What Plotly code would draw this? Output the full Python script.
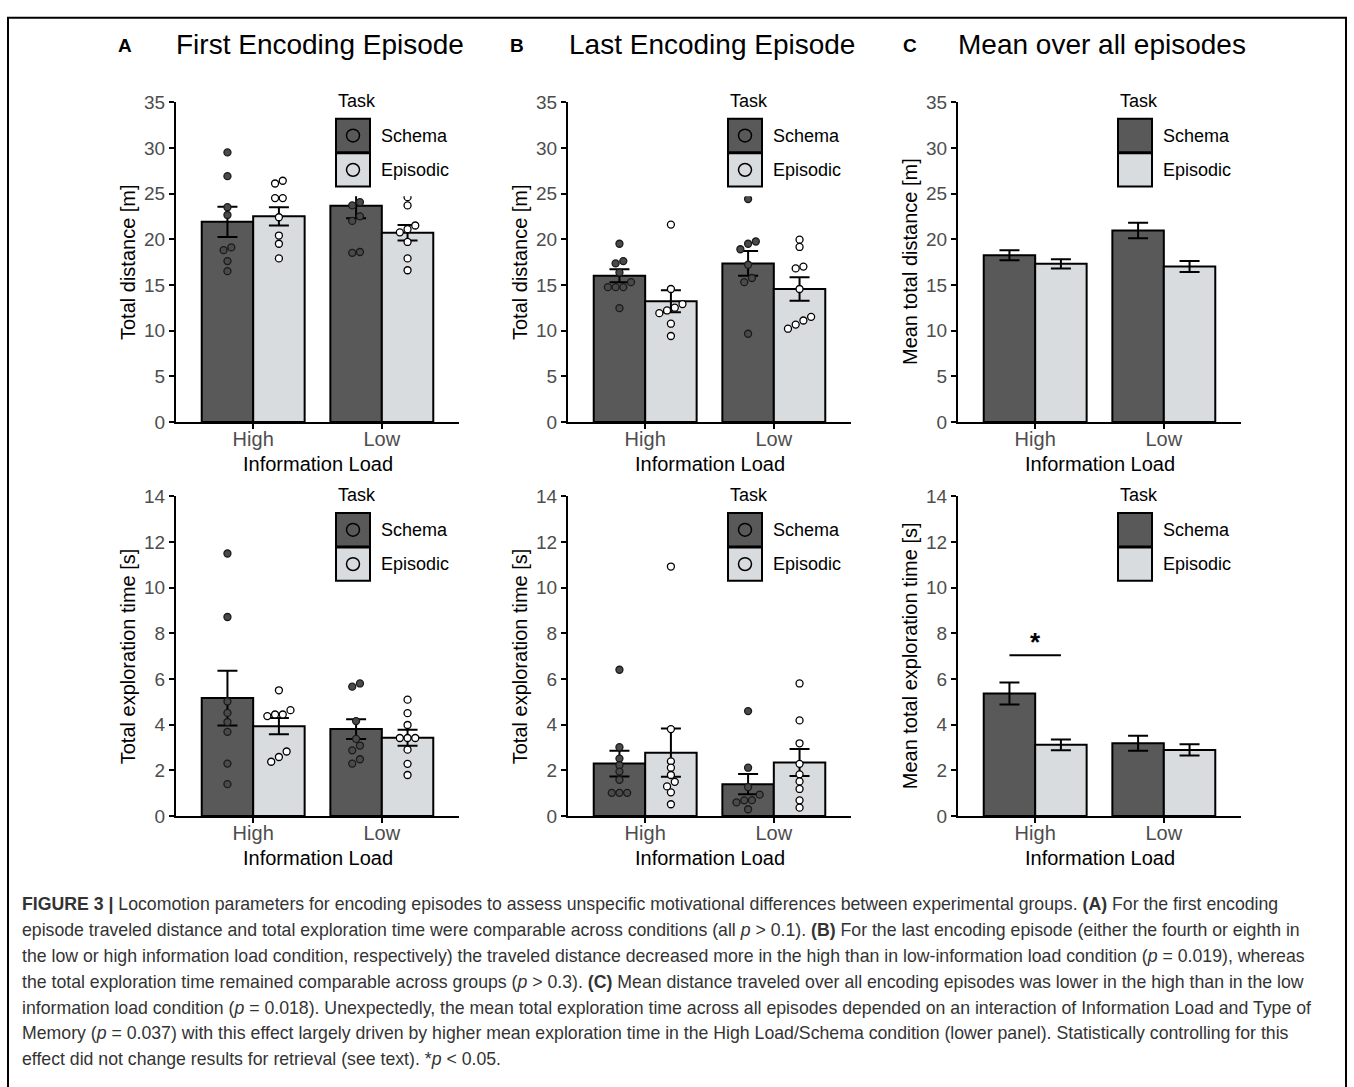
import plotly.graph_objects as go

# ---------------- data ----------------
categories = ["High", "Low"]

# Panel A (first encoding episode) - distance [m]
a_dist_schema_mean = [21.9, 23.65]
a_dist_schema_se = [1.65, 1.35]
a_dist_episodic_mean = [22.5, 20.7]
a_dist_episodic_se = [1.0, 0.85]
a_dist_schema_pts_high = [29.5, 26.9, 23.5, 22.65, 19.1, 18.8, 17.6, 16.5]
a_dist_schema_pts_low = [30.5, 29.3, 24.05, 23.7, 22.5, 22.0, 18.6, 18.5]
a_dist_episodic_pts_high = [26.4, 26.1, 24.5, 24.5, 22.4, 20.4, 19.5, 17.9]
a_dist_episodic_pts_low = [24.6, 23.7, 21.5, 21.1, 20.75, 19.7, 17.9, 16.6]

# Panel B (last encoding episode) - distance [m]
b_dist_schema_mean = [16.0, 17.35]
b_dist_schema_se = [0.7, 1.35]
b_dist_episodic_mean = [13.2, 14.55]
b_dist_episodic_se = [1.2, 1.28]
b_dist_schema_pts_high = [19.5, 17.6, 17.35, 16.35, 15.3, 14.75, 14.75, 14.75, 12.45]
b_dist_schema_pts_low = [24.4, 19.75, 19.5, 18.9, 17.2, 15.75, 15.3, 9.65]
b_dist_episodic_pts_high = [21.6, 14.55, 12.9, 12.5, 12.2, 11.9, 10.75, 9.4]
b_dist_episodic_pts_low = [19.95, 19.15, 17.0, 16.8, 14.55, 11.5, 11.1, 10.65, 10.2]

# Panel C (mean over all episodes) - distance [m]
c_dist_schema_mean = [18.25, 20.95]
c_dist_schema_se = [0.55, 0.85]
c_dist_episodic_mean = [17.3, 17.0]
c_dist_episodic_se = [0.5, 0.6]

# Panel A - exploration time [s]
a_time_schema_mean = [5.17, 3.81]
a_time_schema_se = [1.2, 0.43]
a_time_episodic_mean = [3.94, 3.43]
a_time_episodic_se = [0.36, 0.35]
a_time_schema_pts_high = [11.5, 8.72, 5.02, 4.52, 4.12, 3.69, 2.3, 1.4]
a_time_schema_pts_low = [5.81, 5.67, 4.16, 3.38, 3.09, 2.88, 2.49, 2.3]
a_time_episodic_pts_high = [5.51, 4.64, 4.45, 4.45, 4.38, 2.83, 2.59, 2.38]
a_time_episodic_pts_low = [5.1, 4.51, 3.99, 3.42, 3.42, 3.42, 2.91, 2.29, 1.8]

# Panel B - exploration time [s]
b_time_schema_mean = [2.3, 1.4]
b_time_schema_se = [0.56, 0.44]
b_time_episodic_mean = [2.78, 2.35]
b_time_episodic_se = [1.06, 0.59]
b_time_schema_pts_high = [6.41, 3.02, 2.52, 2.23, 1.95, 1.59, 1.02, 1.02, 1.02]
b_time_schema_pts_low = [4.6, 2.12, 1.27, 0.94, 0.7, 0.69, 0.6, 0.3]
b_time_episodic_pts_high = [10.93, 3.81, 2.4, 2.12, 1.8, 1.5, 1.3, 1.04, 0.52]
b_time_episodic_pts_low = [5.81, 4.19, 3.19, 2.29, 1.83, 1.52, 1.19, 0.69, 0.37]

# Panel C - exploration time [s]
c_time_schema_mean = [5.37, 3.19]
c_time_schema_se = [0.48, 0.33]
c_time_episodic_mean = [3.12, 2.9]
c_time_episodic_se = [0.24, 0.25]
sig_label = "*"
sig_height = 7.05

panel_letters = ["A", "B", "C"]
panel_titles = ["First Encoding Episode", "Last Encoding Episode", "Mean over all episodes"]
y_titles_top = ["Total distance [m]", "Total distance [m]", "Mean total distance [m]"]
y_titles_bottom = ["Total exploration time [s]", "Total exploration time [s]",
                   "Mean total exploration time [s]"]
x_title = "Information Load"
legend_title = "Task"
series_names = ["Schema", "Episodic"]

caption_lines = [
    "<b>FIGURE 3 |</b> Locomotion parameters for encoding episodes to assess unspecific motivational differences between experimental groups. <b>(A)</b> For the first encoding",
    "episode traveled distance and total exploration time were comparable across conditions (all <i>p</i> &gt; 0.1). <b>(B)</b> For the last encoding episode (either the fourth or eighth in",
    "the low or high information load condition, respectively) the traveled distance decreased more in the high than in low-information load condition (<i>p</i> = 0.019), whereas",
    "the total exploration time remained comparable across groups (<i>p</i> &gt; 0.3). <b>(C)</b> Mean distance traveled over all encoding episodes was lower in the high than in the low",
    "information load condition (<i>p</i> = 0.018). Unexpectedly, the mean total exploration time across all episodes depended on an interaction of Information Load and Type of",
    "Memory (<i>p</i> = 0.037) with this effect largely driven by higher mean exploration time in the High Load/Schema condition (lower panel). Statistically controlling for this",
    "effect did not change results for retrieval (see text). *<i>p</i> &lt; 0.05.",
]

# ---------------- styling / layout ----------------
W, H = 1354, 1087
FONT = "Liberation Sans, Arial, sans-serif"
CAP_FONT = "Liberation Sans Narrow, Liberation Sans, Arial, sans-serif"
SCHEMA_COLOR = "#595959"
EPISODIC_COLOR = "#d9dcdf"
TICK_COLOR = "#4d4d4d"
BAR_W = 0.4


def px(x):
    return x / W


def py(y):
    return 1 - y / H


axis_left = [176, 568, 958]
axis_width = 283
rows = [dict(y0=420, y1=94, rng=[0, 35], dtick=5),
        dict(y0=822, y1=496, rng=[0, 14], dtick=2)]

fig = go.Figure()
shapes = []
annotations = []


def spread(vals, center, tol, step=0.06):
    idx = sorted(range(len(vals)), key=lambda i: vals[i])
    xs = [center] * len(vals)
    clusters = []
    cur = [idx[0]]
    for i in idx[1:]:
        if abs(vals[i] - vals[cur[-1]]) < tol:
            cur.append(i)
        else:
            clusters.append(cur)
            cur = [i]
    clusters.append(cur)
    for c in clusters:
        n = len(c)
        for k, i in enumerate(c):
            xs[i] = center + (k - (n - 1) / 2) * step
    return xs


panels = [
    (0, 0, a_dist_schema_mean, a_dist_schema_se, a_dist_episodic_mean, a_dist_episodic_se,
     [a_dist_schema_pts_high, a_dist_schema_pts_low], [a_dist_episodic_pts_high, a_dist_episodic_pts_low]),
    (0, 1, b_dist_schema_mean, b_dist_schema_se, b_dist_episodic_mean, b_dist_episodic_se,
     [b_dist_schema_pts_high, b_dist_schema_pts_low], [b_dist_episodic_pts_high, b_dist_episodic_pts_low]),
    (0, 2, c_dist_schema_mean, c_dist_schema_se, c_dist_episodic_mean, c_dist_episodic_se, None, None),
    (1, 0, a_time_schema_mean, a_time_schema_se, a_time_episodic_mean, a_time_episodic_se,
     [a_time_schema_pts_high, a_time_schema_pts_low], [a_time_episodic_pts_high, a_time_episodic_pts_low]),
    (1, 1, b_time_schema_mean, b_time_schema_se, b_time_episodic_mean, b_time_episodic_se,
     [b_time_schema_pts_high, b_time_schema_pts_low], [b_time_episodic_pts_high, b_time_episodic_pts_low]),
    (1, 2, c_time_schema_mean, c_time_schema_se, c_time_episodic_mean, c_time_episodic_se, None, None),
]

layout_axes = {}
for n, (r, c, sm, sse, em, ese, spts, epts) in enumerate(panels, start=1):
    xa = "x" if n == 1 else f"x{n}"
    ya = "y" if n == 1 else f"y{n}"
    row = rows[r]
    xs_cat = list(range(len(categories)))
    err_style = dict(type="data", visible=True, color="black", thickness=2, width=10)
    fig.add_trace(go.Bar(x=[i - BAR_W / 2 for i in xs_cat], y=sm, width=BAR_W,
                         marker=dict(color=SCHEMA_COLOR, line=dict(color="black", width=2)),
                         error_y=dict(array=sse, **err_style),
                         xaxis=xa, yaxis=ya, showlegend=False, name=series_names[0]))
    fig.add_trace(go.Bar(x=[i + BAR_W / 2 for i in xs_cat], y=em, width=BAR_W,
                         marker=dict(color=EPISODIC_COLOR, line=dict(color="black", width=2)),
                         error_y=dict(array=ese, **err_style),
                         xaxis=xa, yaxis=ya, showlegend=False, name=series_names[1]))
    unit_per_px = (row["rng"][1] - row["rng"][0]) / (row["y0"] - row["y1"])
    tol = 6 * unit_per_px
    if spts is not None:
        for pts_list, off, fill in [(spts, -BAR_W / 2, "#4a4a4a"), (epts, BAR_W / 2, "white")]:
            for ci, pts in enumerate(pts_list):
                xs = spread(pts, ci + off, tol)
                fig.add_trace(go.Scatter(x=xs, y=pts, mode="markers",
                                         marker=dict(size=7, color=fill,
                                                     line=dict(color="black" if fill == "white" else "#1a1a1a", width=1.3)),
                                         xaxis=xa, yaxis=ya, showlegend=False, cliponaxis=False,
                                         hoverinfo="y"))
    left = axis_left[c]
    layout_axes["xaxis" if n == 1 else f"xaxis{n}"] = dict(
        domain=[px(left), px(left + axis_width)], range=[-0.6, 1.6], anchor=ya,
        showline=True, linecolor="black", linewidth=2, ticks="outside", ticklen=5,
        tickwidth=1.5, tickcolor="black", tickvals=xs_cat, ticktext=categories,
        ticklabelstandoff=-7,
        tickfont=dict(family=FONT, size=20, color=TICK_COLOR), showgrid=False, zeroline=False,
        fixedrange=True)
    layout_axes["yaxis" if n == 1 else f"yaxis{n}"] = dict(
        domain=[py(row["y0"]), py(row["y1"])], range=row["rng"], anchor=xa,
        showline=True, linecolor="black", linewidth=2, ticks="outside", ticklen=5,
        tickwidth=1.5, tickcolor="black", dtick=row["dtick"], tick0=0,
        tickfont=dict(family=FONT, size=19, color=TICK_COLOR), showgrid=False, zeroline=False,
        fixedrange=True)

    annotations.append(dict(x=px(left + axis_width / 2), y=py(row["y0"] + 43), xref="paper", yref="paper",
                            text=x_title, showarrow=False, font=dict(family=FONT, size=20, color="black"),
                            xanchor="center", yanchor="middle"))
    ytxt = (y_titles_top if r == 0 else y_titles_bottom)[c]
    annotations.append(dict(x=px(left - 48), y=py((row["y0"] + row["y1"]) / 2), xref="paper", yref="paper",
                            text=ytxt, showarrow=False, textangle=-90,
                            font=dict(family=FONT, size=20, color="black"),
                            xanchor="center", yanchor="middle"))

    # legend (drawn as shapes, covers the plot like the original)
    lx = left + 160
    top = row["y1"]
    shapes.append(dict(type="rect", xref="paper", yref="paper", layer="above",
                       x0=px(lx - 8), x1=px(left + axis_width), y0=py(top + 96), y1=py(top - 14),
                       fillcolor="white", line=dict(width=0)))
    annotations.append(dict(x=px(lx), y=py(top - 1), xref="paper", yref="paper", text=legend_title,
                            showarrow=False, xanchor="left", yanchor="middle",
                            font=dict(family=FONT, size=18, color="black")))
    for k, (nm, col) in enumerate(zip(series_names, [SCHEMA_COLOR, EPISODIC_COLOR])):
        ky0 = top + 17 + k * 35
        ky1 = ky0 + 34
        shapes.append(dict(type="rect", xref="paper", yref="paper", layer="above",
                           x0=px(lx), x1=px(lx + 34), y0=py(ky1), y1=py(ky0),
                           fillcolor=col, line=dict(color="black", width=2)))
        if spts is not None:
            cx, cy = lx + 17, (ky0 + ky1) / 2
            shapes.append(dict(type="circle", xref="paper", yref="paper", layer="above",
                               x0=px(cx - 6.5), x1=px(cx + 6.5), y0=py(cy + 6.5), y1=py(cy - 6.5),
                               line=dict(color="black", width=1.5)))
        annotations.append(dict(x=px(lx + 43), y=py((ky0 + ky1) / 2), xref="paper", yref="paper",
                                text=nm, showarrow=False, xanchor="left", yanchor="middle",
                                font=dict(family=FONT, size=18, color="black")))

# significance marker on panel C bottom
shapes.append(dict(type="line", xref="x6", yref="y6", x0=-BAR_W / 2, x1=BAR_W / 2,
                   y0=sig_height, y1=sig_height, line=dict(color="black", width=2)))
annotations.append(dict(x=0, y=sig_height, xref="x6", yref="y6", text=f"<b>{sig_label}</b>",
                        showarrow=False, yanchor="bottom", yshift=-4,
                        font=dict(family=FONT, size=26, color="black")))

# panel letters and titles
letter_x = [125, 517, 910]
title_x = [320, 712, 1102]
for i in range(3):
    annotations.append(dict(x=px(letter_x[i]), y=py(36), xref="paper", yref="paper",
                            text=f"<b>{panel_letters[i]}</b>", showarrow=False,
                            xanchor="center", yanchor="middle",
                            font=dict(family=FONT, size=19, color="black")))
    annotations.append(dict(x=px(title_x[i]), y=py(35), xref="paper", yref="paper",
                            text=panel_titles[i], showarrow=False,
                            xanchor="center", yanchor="middle",
                            font=dict(family=FONT, size=28, color="black")))

# caption
for i, line in enumerate(caption_lines):
    annotations.append(dict(x=px(20), y=py(912 + 26.3 * i), xref="paper", yref="paper",
                            text=line, showarrow=False, xanchor="left", yanchor="middle",
                            font=dict(family=CAP_FONT, size=17.7, color="#333333")))

# outer frame
shapes.append(dict(type="rect", xref="paper", yref="paper", x0=px(8), x1=px(1346),
                   y0=py(1100), y1=py(8), line=dict(color="black", width=2), layer="above"))

fig.update_layout(
    width=W, height=H, margin=dict(l=0, r=0, t=0, b=0),
    paper_bgcolor="white", plot_bgcolor="white",
    barmode="overlay", showlegend=False,
    shapes=shapes, annotations=annotations,
    font=dict(family=FONT),
    **layout_axes,
)

fig.write_html("out.html", config={"displayModeBar": False},
               post_script="document.body.style.margin='0';document.body.style.padding='0';"
                           "document.body.style.overflow='hidden';")
